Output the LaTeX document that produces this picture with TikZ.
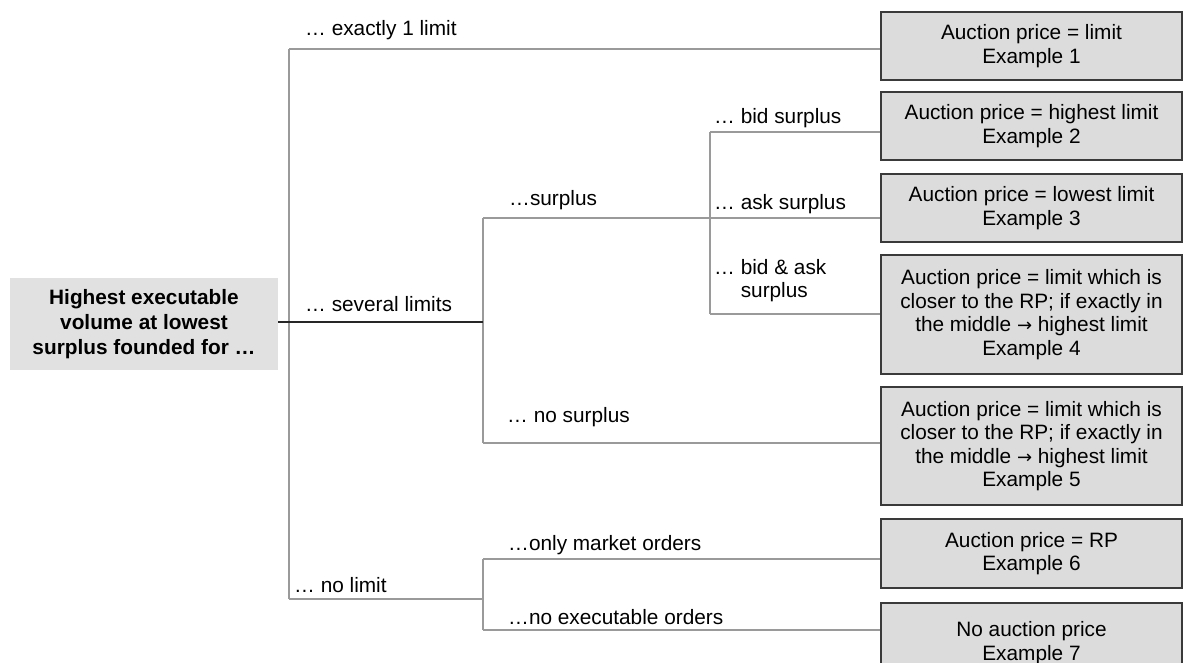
\documentclass[tikz,border=0pt]{standalone}
\usepackage{fontspec}
\setmainfont{Liberation Sans}
\newfontfamily\arrfont{DejaVu Sans}
\definecolor{boxgray}{HTML}{DCDCDC}
\definecolor{rootgray}{HTML}{E1E1E1}
\definecolor{linegray}{HTML}{9A9A9A}
\definecolor{bordergray}{HTML}{3A3A3A}
\newcommand{\fs}{\fontsize{20.8}{23.5}\selectfont}
\newcommand{\fsb}{\fontsize{20.8}{25}\selectfont\bfseries}
\newcommand{\myarr}{{\arrfont\fontsize{18}{23.5}\selectfont →}}
\begin{document}
\begin{tikzpicture}[x=1pt,y=-1pt,
  resbox/.style={draw=bordergray, line width=1.3pt, fill=boxgray, minimum width=301pt,
    align=center, inner sep=0pt, font=\fs},
  rootbox/.style={fill=rootgray, minimum width=268pt, minimum height=92pt,
    align=center, inner sep=0pt, font=\fsb},
  lbl/.style={anchor=west, inner sep=0pt, align=left, font=\fs},
  conn/.style={draw=linegray, line width=1.2pt},
  mainconn/.style={draw=black!85, line width=1.2pt}]
\useasboundingbox (0,0) rectangle (1184,663);

% root
\node[rootbox] (root) at (144,324) {Highest executable\\volume at lowest\\surplus founded for \ldots};

% result boxes
\node[resbox, minimum height=68pt] (b1) at (1031.5,46) {Auction price = limit\\Example 1};
\node[resbox, minimum height=68pt] (b2) at (1031.5,126) {Auction price = highest limit\\Example 2};
\node[resbox, minimum height=68pt] (b3) at (1031.5,208) {Auction price = lowest limit\\Example 3};
\node[resbox, minimum height=119pt] (b4) at (1031.5,314.5) {Auction price = limit which is\\closer to the RP; if exactly in\\the middle \myarr{} highest limit\\Example 4};
\node[resbox, minimum height=118pt] (b5) at (1031.5,446) {Auction price = limit which is\\closer to the RP; if exactly in\\the middle \myarr{} highest limit\\Example 5};
\node[resbox, minimum height=69pt] (b6) at (1031.5,553.5) {Auction price = RP\\Example 6};
\node[resbox, minimum height=80pt] (b7) at (1031.5,643) {No auction price\\Example 7};

% junction coordinates
\coordinate (j1t) at (289,49);
\coordinate (j1m) at (289,322);
\coordinate (j1b) at (289,599);
\coordinate (j2) at (483,322);
\coordinate (j2t) at (483,218);
\coordinate (j2b) at (483,443);
\coordinate (j3t) at (710,132);
\coordinate (j3m) at (710,218);
\coordinate (j3b) at (710,314);
\coordinate (j4) at (483,599);
\coordinate (j4t) at (483,559);
\coordinate (j4b) at (483,630);

% connectors
\draw[conn] (j1t) -- (j1b);
\draw[conn] (j1t) -- (j1t -| b1.west);
\draw[conn] (j2t) -- (j2b);
\draw[conn] (j2t) -- (j2t -| b3.west);
\draw[conn] (j3t) -- (j3b);
\draw[conn] (j3t) -- (j3t -| b2.west);
\draw[conn] (j3b) -- (j3b -| b4.west);
\draw[conn] (j2b) -- (j2b -| b5.west);
\draw[conn] (j1b) -- (j4);
\draw[conn] (j4t) -- (j4b);
\draw[conn] (j4t) -- (j4t -| b6.west);
\draw[conn] (j4b) -- (j4b -| b7.west);
\draw[mainconn] (root.east |- j1m) -- (j2);

% labels
\node[lbl] (l1) at (305,30) {\ldots\ exactly 1 limit};
\node[lbl] (l2) at (305,304) {\ldots\ several limits};
\node[lbl] (l3) at (294,585) {\ldots\ no limit};
\node[lbl] (l4) at (509,200) {\ldots surplus};
\node[lbl] (l5) at (507,417) {\ldots\ no surplus};
\node[lbl] (l6) at (508,545) {\ldots only market orders};
\node[lbl] (l7) at (508,617) {\ldots no executable orders};
\node[lbl] (l8) at (714,118) {\ldots\ bid surplus};
\node[lbl] (l9) at (714,204) {\ldots\ ask surplus};
\node[lbl, anchor=north west] (l10) at (714,259) {\ldots\ bid \& ask\\\phantom{\ldots}\ surplus};
\end{tikzpicture}
\end{document}
